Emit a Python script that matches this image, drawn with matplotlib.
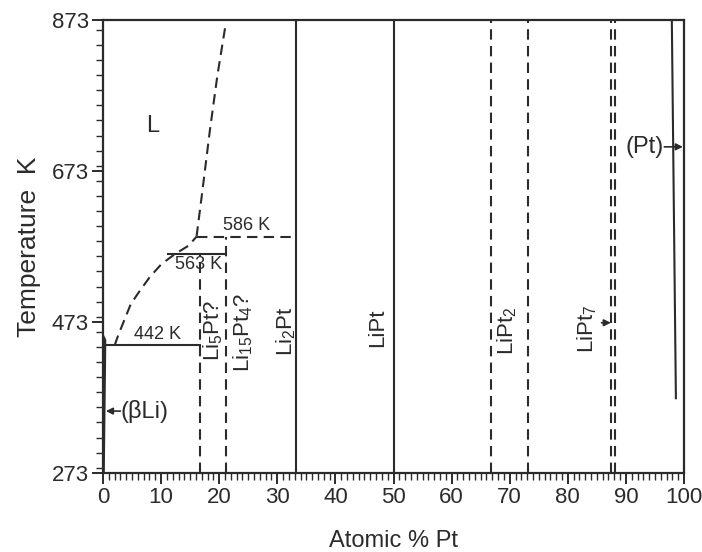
import matplotlib
matplotlib.use("Agg")
import matplotlib.pyplot as plt
from matplotlib.ticker import MultipleLocator, FixedLocator

plt.rcParams['font.family'] = ['Liberation Sans', 'DejaVu Sans']
plt.rcParams['mathtext.fontset'] = 'custom'
plt.rcParams['mathtext.rm'] = 'Liberation Sans'
plt.rcParams['mathtext.it'] = 'Liberation Sans'
plt.rcParams['mathtext.default'] = 'regular'

INK = '#2b2b2b'

# Axis ranges and ticks
t_min, t_max = 273, 873
y_major = [273, 473, 673, 873]
x_major = [0, 10, 20, 30, 40, 50, 60, 70, 80, 90, 100]

# Compound lines (at.% Pt)
solid_compounds = [33.3, 50.0]              # Li2Pt, LiPt
dashed_full = [66.7, 73.2, 87.5, 88.1]      # LiPt2 region, LiPt7 (double)
li5pt_x, li5pt_top = 16.7, 563
li15pt4_x, li15pt4_top = 21.1, 586

# Invariant reactions
eut_T, eut_x0, eut_x1 = 442, 0.6, 16.7
per1_T, per1_x0, per1_x1 = 563, 11.2, 21.1
per2_T, per2_x0, per2_x1 = 586, 16.1, 33.3

# Liquidus (dashed), Li-rich side
liq_low_x = [2.0, 2.6, 3.8, 4.8, 6.4, 8.1, 10.1, 12.4, 14.7, 16.1]
liq_low_T = [442, 455, 478, 497, 515, 533, 550, 563, 574, 586]
liq_up_x = [16.1, 17.0, 18.4, 19.7, 21.0]
liq_up_T = [586, 640, 727, 800, 862]

# (betaLi) boundary
bli_x = [0.05, 0.3, 0.3, 0.0]
bli_T = [273, 442, 449, 453.7]

# (Pt) solvus
pt_x = [97.9, 98.6]
pt_T = [873, 372]

fig = plt.figure(figsize=(7.02, 5.52), dpi=100)
ax = fig.add_axes([0.1467, 0.1431, 0.8277, 0.8207])
ax.set_xlim(0, 100)
ax.set_ylim(t_min, t_max)

lw = 1.5
dash = (0, (5, 3.0))

for x in solid_compounds:
    ax.plot([x, x], [t_min, t_max], color=INK, lw=lw)
for x in dashed_full:
    ax.plot([x, x], [t_min, t_max], color=INK, lw=lw, linestyle=dash)
ax.plot([li5pt_x, li5pt_x], [t_min, li5pt_top], color=INK, lw=lw, linestyle=dash)
ax.plot([li15pt4_x, li15pt4_x], [t_min, li15pt4_top], color=INK, lw=lw, linestyle=dash)

ax.plot([eut_x0, eut_x1], [eut_T, eut_T], color=INK, lw=lw)
ax.plot([per1_x0, per1_x1], [per1_T, per1_T], color=INK, lw=lw)
ax.plot([per2_x0, per2_x1], [per2_T, per2_T], color=INK, lw=lw, linestyle=dash)

ax.plot(liq_low_x, liq_low_T, color=INK, lw=lw, linestyle=dash)
ax.plot(liq_up_x, liq_up_T, color=INK, lw=lw, linestyle=dash)

ax.plot(bli_x, bli_T, color=INK, lw=2.2)
ax.plot(pt_x, pt_T, color=INK, lw=lw)

# Phase labels
ax.text(8.5, 733, 'L', fontsize=17, color=INK, ha='center', va='center')
ax.text(24.7, 589, '586 K', fontsize=13, color=INK, ha='center', va='bottom')
ax.text(16.4, 561, '563 K', fontsize=13, color=INK, ha='center', va='top')
ax.text(9.4, 445, '442 K', fontsize=13, color=INK, ha='center', va='bottom')

rot_labels = [
    (19.0, 462, 'Li$_5$Pt?'),
    (24.1, 460, 'Li$_{15}$Pt$_4$?'),
    (31.5, 461, 'Li$_2$Pt'),
    (47.3, 466, 'LiPt'),
    (69.6, 462, 'LiPt$_2$'),
    (83.3, 464, 'LiPt$_7$'),
]
for x, t, s in rot_labels:
    ax.text(x, t, s, fontsize=16, color=INK, rotation=90, ha='center', va='center')

arrow = dict(arrowstyle='-|>', color=INK, lw=1.2, mutation_scale=10, shrinkA=0, shrinkB=0)
ax.annotate('', xy=(0.5, 355), xytext=(3.0, 355), arrowprops=arrow)
ax.text(3.1, 355, '(βLi)', fontsize=17, color=INK, ha='left', va='center')

ax.annotate('', xy=(87.4, 472), xytext=(85.8, 472), arrowprops=arrow)

ax.annotate('', xy=(99.8, 705), xytext=(96.6, 705), arrowprops=arrow)
ax.text(96.5, 705, '(Pt)', fontsize=17, color=INK, ha='right', va='center')

# Axes styling
for sp in ax.spines.values():
    sp.set_linewidth(1.6)
    sp.set_color(INK)

ax.xaxis.set_major_locator(FixedLocator(x_major))
ax.xaxis.set_minor_locator(MultipleLocator(1))
ax.yaxis.set_major_locator(FixedLocator(y_major))
ax.yaxis.set_minor_locator(MultipleLocator(20))
ax.tick_params(which='major', direction='out', length=8, width=1.4, colors=INK,
               labelsize=16, pad=2)
ax.tick_params(which='minor', direction='out', length=5, width=1.0, colors=INK)
ax.tick_params(axis='x', which='both', top=False)
ax.tick_params(axis='y', which='both', right=False)

ax.set_xlabel('Atomic % Pt', fontsize=17, color=INK, labelpad=16)
ax.set_ylabel('Temperature  K', fontsize=19, color=INK, labelpad=8)

fig.savefig('out.png', dpi=100, facecolor='white')
